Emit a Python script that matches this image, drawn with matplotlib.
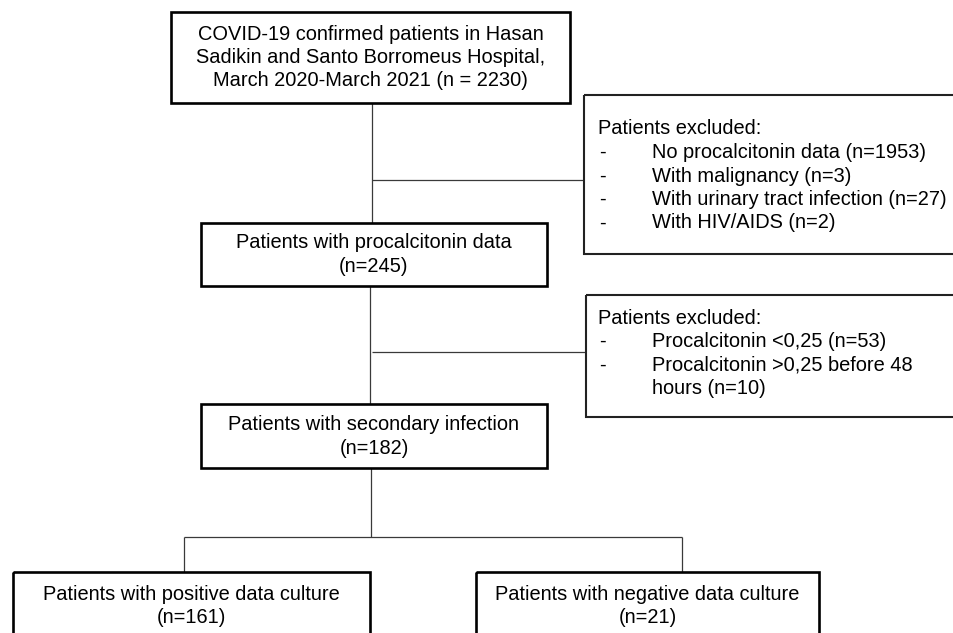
import matplotlib
matplotlib.use("Agg")
import matplotlib.pyplot as plt
import matplotlib.patches as mpatches

# flowchart content
top_lines = ["COVID-19 confirmed patients in Hasan",
             "Sadikin and Santo Borromeus Hospital,",
             "March 2020-March 2021 (n = 2230)"]
pct_lines = ["Patients with procalcitonin data", "(n=245)"]
sec_lines = ["Patients with secondary infection", "(n=182)"]
pos_lines = ["Patients with positive data culture", "(n=161)"]
neg_lines = ["Patients with negative data culture", "(n=21)"]

excl1_header = "Patients excluded:"
excl1_items = ["No procalcitonin data (n=1953)",
               "With malignancy (n=3)",
               "With urinary tract infection (n=27)",
               "With HIV/AIDS (n=2)"]
excl2_header = "Patients excluded:"
excl2_items = ["Procalcitonin <0,25 (n=53)",
               "Procalcitonin >0,25 before 48",
               "hours (n=10)"]
excl2_dash = [True, True, False]

FONT = "Liberation Sans"
FS = 14.4
LINE_H = 23.5


def box(ax, x0, y0, x1, y1, lw=1.9, ec="black"):
    ax.add_patch(mpatches.Rectangle((x0, y0), x1 - x0, y1 - y0, fill=False,
                                    edgecolor=ec, linewidth=lw, zorder=3))


def centered(ax, lines, cx, y_first):
    for i, s in enumerate(lines):
        ax.text(cx, y_first + i * LINE_H, s, ha="center", va="center",
                fontsize=FS, family=FONT, color="black", zorder=4)


def line(ax, xs, ys):
    ax.plot(xs, ys, color="#3a3a3a", linewidth=0.9, solid_capstyle="butt", zorder=2)


def excluded(ax, header, items, dashes, y_first):
    ax.text(598, y_first, header, ha="left", va="center", fontsize=FS,
            family=FONT, zorder=4)
    for i, s in enumerate(items):
        y = y_first + (i + 1) * LINE_H
        if dashes[i]:
            ax.text(599, y, "-", ha="left", va="center", fontsize=FS, family=FONT, zorder=4)
        ax.text(652, y, s, ha="left", va="center", fontsize=FS, family=FONT, zorder=4)


fig = plt.figure(figsize=(9.54, 6.33), dpi=100, facecolor="white")
ax = fig.add_axes([0, 0, 1, 1])
ax.set_xlim(0, 954)
ax.set_ylim(633, 0)
ax.axis("off")

# main boxes
box(ax, 171, 12, 570, 103)
centered(ax, top_lines, 370.5, 34)

box(ax, 201, 223, 547, 286)
centered(ax, pct_lines, 374, 243)

box(ax, 201, 404, 547, 468)
centered(ax, sec_lines, 374, 425)

box(ax, 13, 572, 370, 660)
centered(ax, pos_lines, 191.5, 594)

box(ax, 476, 572, 819, 660)
centered(ax, neg_lines, 647.5, 594)

# exclusion boxes (run off the right edge)
box(ax, 584, 95, 970, 254, lw=1.5, ec="#222222")
excluded(ax, excl1_header, excl1_items, [True] * len(excl1_items), 129)

box(ax, 586, 295, 970, 417, lw=1.5, ec="#222222")
excluded(ax, excl2_header, excl2_items, excl2_dash, 318)

# connectors
line(ax, [372, 372], [103, 223])
line(ax, [372, 584], [180, 180])
line(ax, [370, 370], [286, 404])
line(ax, [372, 586], [352, 352])
line(ax, [371, 371], [468, 537])
line(ax, [184, 682], [537, 537])
line(ax, [184, 184], [537, 572])
line(ax, [682, 682], [537, 572])

fig.savefig("out.png", dpi=100, facecolor="white")
